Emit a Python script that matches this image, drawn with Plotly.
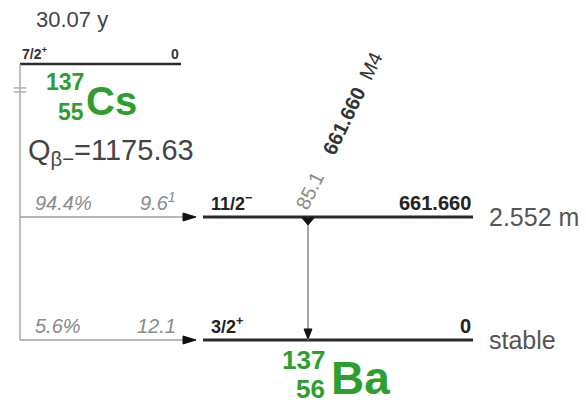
import plotly.graph_objects as go

# ---- decay data: 137Cs (beta-) -> 137Ba ----
parent_symbol = "Cs"
parent_A = 137
parent_Z = 55
parent_half_life = "30.07 y"
parent_spin = "7/2<sup>+</sup>"
parent_energy = "0"
q_value = 1175.63

daughter_symbol = "Ba"
daughter_A = 137
daughter_Z = 56
level_energies = [661.660, 0.0]
level_spins = ["11/2<sup>\u2212</sup>", "3/2<sup>+</sup>"]
level_half_lives = ["2.552 m", "stable"]
beta_branching = [94.4, 5.6]
log_ft = ["9.6<sup>1</sup>", "12.1"]

gamma_energies = [661.660]
gamma_intensities = [85.1]
gamma_multipolarities = ["M4"]
gamma_from = [661.660]
gamma_to = [0.0]

# ---- drawing layout ----
W, H = 586, 403
Y_RANGE = [-339, 1829]          # keV shown on the (hidden) energy axis
PARENT_DRAW_E = 1485            # parent level drawn off-scale (axis break)
FONT = "Liberation Sans, Arial, sans-serif"
GREEN = "#2e9e2e"
LEVEL_COLOR = "#2b2b2b"

PX_PARENT = (20, 181)
PX_FEED_X0 = 20
PX_FEED_TIP = 196
PX_LEVEL = (203, 473)
PX_GAMMA = 308
PX_RIGHT_LABEL = 487

fig = go.Figure()
shapes = []
ann = []


def text(x, y, s, size, color="#333", xa="left", ya="middle", ys=0, **kw):
    ann.append(dict(x=x, y=y, text=s, showarrow=False, xanchor=xa, yanchor=ya,
                    yshift=ys, font=dict(family=FONT, size=size, color=color), **kw))


# parent level
shapes.append(dict(type="line", x0=PX_PARENT[0], x1=PX_PARENT[1], y0=PARENT_DRAW_E,
                   y1=PARENT_DRAW_E, line=dict(color=LEVEL_COLOR, width=2.5)))
text(PX_PARENT[0], PARENT_DRAW_E, "<b>" + parent_spin + "</b>", 14, "#333", "left", "bottom", 0)
text(PX_PARENT[1], PARENT_DRAW_E, "<b>" + parent_energy + "</b>", 14, "#333", "right", "bottom", 0)
text(72, PARENT_DRAW_E, parent_half_life, 22, "#444", "center", "middle", 44)

# vertical feeding line from the parent
shapes.append(dict(type="line", x0=PX_FEED_X0, x1=PX_FEED_X0, y0=PARENT_DRAW_E,
                   y1=min(level_energies), line=dict(color="#a8a8a8", width=1.5)))
# axis-break marker
for off in (-24, -28):
    shapes.append(dict(type="line", xref="x", yref="y", ysizemode="pixel",
                       yanchor=PARENT_DRAW_E, x0=14, x1=26, y0=off, y1=off,
                       line=dict(color="#b0b0b0", width=1.5)))

# parent nuclide label
text(86, PARENT_DRAW_E, "<b>%d</b>" % parent_A, 23, GREEN, "right", "middle", -18)
text(86, PARENT_DRAW_E, "<b>%d</b>" % parent_Z, 23, GREEN, "right", "middle", -48)
text(84, PARENT_DRAW_E, "<b>%s</b>" % parent_symbol, 40, GREEN, "left", "middle", -37)
text(26, PARENT_DRAW_E, "Q<sub>\u03b2\u2212</sub>=%.2f" % q_value, 29, "#444", "left", "middle", -88)

# daughter levels with beta feeding
for E, spin, hl, br, ft in zip(level_energies, level_spins, level_half_lives,
                               beta_branching, log_ft):
    shapes.append(dict(type="line", x0=PX_LEVEL[0], x1=PX_LEVEL[1], y0=E, y1=E,
                       line=dict(color=LEVEL_COLOR, width=3)))
    shapes.append(dict(type="line", x0=PX_FEED_X0, x1=PX_FEED_TIP - 10, y0=E, y1=E,
                       line=dict(color="#a0a0a0", width=1.5)))
    shapes.append(dict(type="path", xsizemode="pixel", ysizemode="pixel",
                       xanchor=PX_FEED_TIP, yanchor=E, path="M -13,-4 L -13,4 L 0,0 Z",
                       fillcolor="#111", line=dict(color="#111", width=1)))
    text(PX_LEVEL[0] + 6, E, "<b>" + spin + "</b>", 18, "#222", "left", "bottom", 1)
    text(PX_LEVEL[1], E, "<b>%.3f</b>" % E if E else "<b>0</b>", 20, "#222", "right", "bottom", 1)
    text(PX_RIGHT_LABEL, E, hl, 25, "#555", "left", "middle", 0)
    text(33, E, "<i>%.1f%%</i>" % br, 20, "#8a8a8a", "left", "bottom", 1)
    text(178, E, "<i>" + ft + "</i>", 20, "#8a8a8a", "right", "bottom", 1)

# gamma transition
for Ei, Ef, Eg, Ig, mult in zip(gamma_from, gamma_to, gamma_energies,
                                gamma_intensities, gamma_multipolarities):
    shapes.append(dict(type="line", x0=PX_GAMMA, x1=PX_GAMMA, y0=Ei, y1=Ef,
                       line=dict(color="#8a8a8a", width=1.5)))
    shapes.append(dict(type="path", xsizemode="pixel", ysizemode="pixel",
                       xanchor=PX_GAMMA, yanchor=Ei, path="M -6,-1 L 6,-1 L 0,-8 Z",
                       fillcolor="#111", line=dict(color="#111", width=1)))
    shapes.append(dict(type="path", xsizemode="pixel", ysizemode="pixel",
                       xanchor=PX_GAMMA, yanchor=Ef, path="M -4,11 L 4,11 L 0,1 Z",
                       fillcolor="#111", line=dict(color="#111", width=1)))
    label = ("<span style='color:#8a8a8a'>%.1f</span>    <b>%.3f</b>  %s" % (Ig, Eg, mult))
    text(PX_GAMMA + 31, Ei, label, 20, "#333", "center", "middle", 86, textangle=-64)

# daughter nuclide label
E0 = min(level_energies)
text(327, E0, "<b>%d</b>" % daughter_A, 26, GREEN, "right", "middle", -20)
text(327, E0, "<b>%d</b>" % daughter_Z, 26, GREEN, "right", "middle", -49)
text(329, E0, "<b>%s</b>" % daughter_symbol, 46, GREEN, "left", "middle", -38)

fig.update_layout(
    width=W, height=H, margin=dict(l=0, r=0, t=0, b=0),
    paper_bgcolor="white", plot_bgcolor="white", showlegend=False,
    xaxis=dict(range=[0, W], visible=False, fixedrange=True),
    yaxis=dict(range=Y_RANGE, visible=False, fixedrange=True),
    shapes=shapes, annotations=ann,
)
fig.write_html("out.html")
